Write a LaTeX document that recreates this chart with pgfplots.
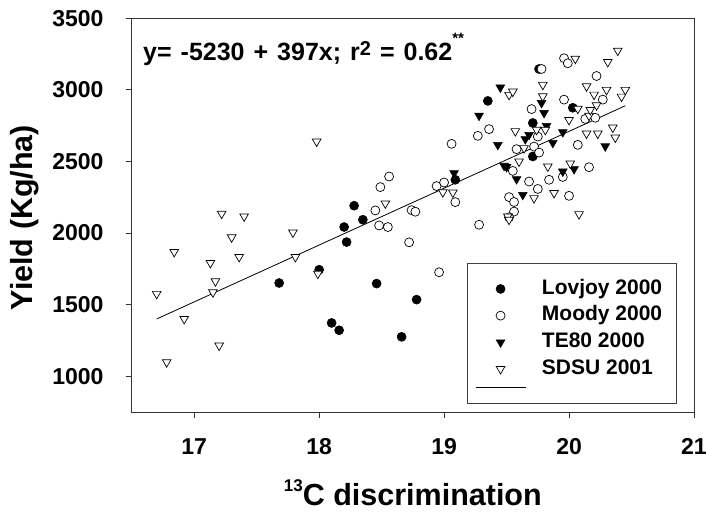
\documentclass[border=0pt]{standalone}
\usepackage{fontspec}
\setmainfont{Liberation Sans}
\usepackage{pgfplots}
\pgfplotsset{compat=1.18}
\pgfplotsset{
  markleg/.style={legend image code/.code={\path[draw=none] (0pt,-1pt) rectangle (50pt,1pt); \draw[##1] plot coordinates {(25pt,0pt)};}},
  lineleg/.style={legend image code/.code={\draw[##1] (0pt,0pt) -- (50pt,0pt);}},
}
\begin{document}
\begin{tikzpicture}
\begin{axis}[
  scale only axis, width=562.3pt, height=393.7pt,
  xmin=16.5, xmax=21, ymin=750, ymax=3500,
  xtick={17,18,19,20,21}, ytick={1000,1500,2000,2500,3000,3500},
  tick align=outside, xtick pos=bottom, ytick pos=left,
  major tick length=6pt,
  tick style={line width=0.9pt, black!80},
  axis line style={line width=1pt, black!80},
  /pgf/number format/assume math mode=true,
  /pgf/number format/1000 sep={},
  ticklabel style={font=\fontsize{23}{23}\selectfont\bfseries},
  yticklabel style={inner sep=0pt, anchor=east, xshift=-22pt},
  xticklabel style={inner sep=0pt, anchor=north, yshift=-20pt},
  xlabel={\raisebox{14pt}{\fontsize{17}{17}\selectfont 13}C discrimination},
  ylabel={Yield (Kg/ha)},
  label style={font=\fontsize{30.5}{30.5}\selectfont\bfseries},
  xlabel style={at={(axis description cs:0.5,-0.2362)}, anchor=base, inner sep=0pt},
  ylabel style={at={(axis description cs:-0.1898,0.494)}, anchor=center},
  legend style={at={(axis description cs:0.5958,0.379)}, anchor=north west,
    draw=black!75, line width=0.9pt, font=\fontsize{21}{21}\selectfont\bfseries,
    inner xsep=8pt, inner ysep=6pt, row sep=0pt,
    nodes={text height=15pt, text depth=4.5pt, inner ysep=3.6pt, inner xsep=6pt},
    /tikz/every odd column/.append style={column sep=10pt}},
  legend cell align=left,
]
\addplot[only marks, mark=*, mark size=4.5pt, mark options={fill=black, draw=black, line width=0.6pt}, markleg]
coordinates {
(17.68,1651) (18.00,1744) (18.10,1372) (18.16,1321) (18.20,2042) (18.22,1937)
(18.28,2191) (18.35,2093) (18.46,1647) (18.66,1275) (18.78,1535)
(19.09,2372) (19.35,2923) (19.71,2769) (19.71,2535) (19.76,3146) (20.03,2875)
};
\addlegendentry[text height=21.35pt, yshift=3.175pt]{Lovjoy 2000}
\addplot[only marks, mark=*, mark size=4.5pt, mark options={fill=white, draw=black, line width=0.7pt}, markleg]
coordinates {
(18.45,2158) (18.49,2321) (18.56,2395) (18.48,2053) (18.55,2042) (18.72,1935)
(18.74,2160) (18.77,2149) (18.96,1726) (18.94,2328) (19.00,2353) (19.09,2216)
(19.06,2623) (19.27,2679) (19.28,2058) (19.36,2726) (19.52,2251) (19.55,2434)
(19.56,2217) (19.56,2150) (19.52,2110) (19.58,2586) (19.68,2360) (19.70,2866)
(19.72,2604) (19.75,2674) (19.76,2562) (19.75,2308) (19.78,3146) (19.84,2372)
(19.95,2392) (19.96,3221) (19.99,3186) (19.96,2932) (20.00,2260) (20.07,2616)
(20.13,2797) (20.16,2460) (20.21,2805) (20.22,3097) (20.27,2932)
};
\addlegendentry{Moody 2000}
\addplot[only marks, mark=triangle*, mark size=5pt, mark options={rotate=180, fill=black, draw=black, line width=0.6pt}, markleg]
coordinates {
(19.08,2419) (19.28,2820) (19.43,2616) (19.45,3017) (19.48,2470) (19.50,2461)
(19.58,2377) (19.63,2267) (19.65,2656) (19.68,2686) (19.78,2909) (19.80,2839)
(19.82,2749) (19.87,2630) (19.95,2705) (19.95,2430) (20.04,2447) (20.29,2606)
};
\addlegendentry{TE80 2000}
\addplot[only marks, mark=triangle*, mark size=5pt, mark options={rotate=180, fill=white, draw=black, line width=0.7pt}, markleg]
coordinates {
(16.70,1575) (16.78,1098) (16.84,1868) (16.92,1400) (17.13,1791) (17.15,1586)
(17.17,1663) (17.20,1214) (17.22,2135) (17.30,1970) (17.36,1833) (17.40,2116)
(17.79,2004) (17.81,1833) (17.98,2639) (17.99,1716) (18.53,2207)
(18.99,2285) (19.07,2283) (19.51,2116) (19.52,2093) (19.52,2965) (19.55,2988)
(19.57,2712) (19.60,2500) (19.64,2593) (19.72,2244) (19.74,2721) (19.79,3035)
(19.79,2955) (19.81,2721) (19.83,2465) (19.88,2280) (20.00,2790) (20.01,2486)
(20.05,3218) (20.07,2868) (20.08,2132) (20.14,3025) (20.14,2695) (20.16,2820)
(20.17,2860) (20.20,2967) (20.22,2892) (20.23,2695) (20.30,3000) (20.31,3195)
(20.35,2737) (20.37,2667) (20.39,3274) (20.42,2953) (20.45,3000)
};
\addlegendentry{SDSU 2001}
\addplot[black, line width=0.8pt, no marks, lineleg]
coordinates {(16.70,1400) (20.45,2889)};
\addlegendentry[text height=0pt, text depth=0pt, inner ysep=7.65pt, yshift=-2.3pt]{}
\node[anchor=base west, inner sep=0pt, font=\fontsize{25}{25}\selectfont\bfseries]
  at (axis description cs:0.0201,0.894)
  {y=\hspace{9pt}-5230\hspace{9pt}+\hspace{9pt}397x;\hspace{9pt}r\raisebox{5pt}{\fontsize{20}{20}\selectfont 2}\hspace{9pt}=\hspace{9pt}0.62\raisebox{17pt}{\fontsize{15}{15}\selectfont **}};
\end{axis}
\pgfresetboundingbox
\path (-131.7pt,-100pt) rectangle (574.3pt,412pt);
\end{tikzpicture}
\end{document}
